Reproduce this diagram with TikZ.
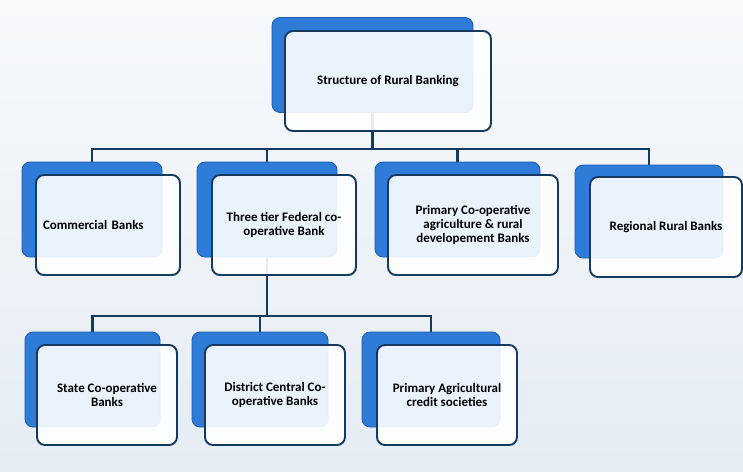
\documentclass[tikz,border=0pt]{standalone}
\usepackage{fontspec}
\setmainfont{Carlito}
\usetikzlibrary{backgrounds}

\definecolor{backblue}{HTML}{2F7BD8}
\definecolor{edgeblue}{HTML}{1F5AA8}
\definecolor{navy}{HTML}{163A5F}
\definecolor{pagetop}{HTML}{F7F9FB}
\definecolor{pagebot}{HTML}{E5ECF4}

\tikzset{
  backbox/.style={draw=edgeblue, fill=backblue, rounded corners=8pt,
    line width=0.8pt, minimum height=95pt, inner sep=0pt},
  frontbox/.style={draw=navy, fill=white, fill opacity=0.9, text opacity=1,
    rounded corners=8pt, line width=1.9pt, minimum height=100pt,
    align=center, font=\bfseries\fontsize{13}{14}\selectfont},
  link/.style={navy, line width=2.1pt},
}

\begin{document}
\begin{tikzpicture}[x=1pt,y=-1pt]
  \useasboundingbox (0,0) rectangle (743,471);

  % top
  \node[backbox, minimum width=201pt] (top) at (372.5,65) {};
  \node[frontbox, minimum width=206pt] (toptxt) at ([shift={(15.5,16)}]top)
    {Structure of Rural Banking};

  % first row
  \node[backbox, minimum width=140pt] (comm) at (92,209.5) {};
  \node[frontbox, minimum width=144pt, text width=130pt, align=left] (commtxt)
    at ([shift={(16,15.5)}]comm) {Commercial Banks};
  \node[backbox, minimum width=140pt] (tier) at (267,209.5) {};
  \node[frontbox, minimum width=144pt] (tiertxt) at ([shift={(17,15.5)}]tier)
    {Three tier Federal co-\\operative Bank};
  \node[backbox, minimum width=165pt] (prim) at (457.5,209.5) {};
  \node[frontbox, minimum width=170pt] (primtxt) at ([shift={(15.5,15.5)}]prim)
    {Primary Co-operative\\agriculture \& rural\\developement Banks};
  \node[backbox, minimum width=148pt, minimum height=93pt] (rrb) at (649,211.5) {};
  \node[frontbox, minimum width=152pt] (rrbtxt) at ([shift={(17,15.5)}]rrb)
    {Regional Rural Banks};

  % second row
  \node[backbox, minimum width=135pt] (scb) at (92.5,379.5) {};
  \node[frontbox, minimum width=140pt] (scbtxt) at ([shift={(14.5,15.5)}]scb)
    {State Co-operative\\Banks};
  \node[backbox, minimum width=136pt] (dccb) at (260,379.5) {};
  \node[frontbox, minimum width=140pt] (dccbtxt) at ([shift={(15,15.5)}]dccb)
    {District Central Co-\\operative Banks};
  \node[backbox, minimum width=138pt] (pacs) at (431,379.5) {};
  \node[frontbox, minimum width=140pt] (pacstxt) at ([shift={(16,15.5)}]pacs)
    {Primary Agricultural\\credit societies};

  \begin{scope}[on background layer]
    \fill[top color=pagetop, bottom color=pagebot] (0,0) rectangle (743,471);
    \draw[link] (top.south) -- ++(0,36) coordinate (j1);
    \foreach \n in {comm,tier,prim,rrb}
      \draw[link] (j1) -| (\n.north);
    \draw[link] (tier.south) -- ++(0,59) coordinate (j2);
    \foreach \n in {scb,dccb,pacs}
      \draw[link] (j2) -| (\n.north);
  \end{scope}
\end{tikzpicture}
\end{document}
